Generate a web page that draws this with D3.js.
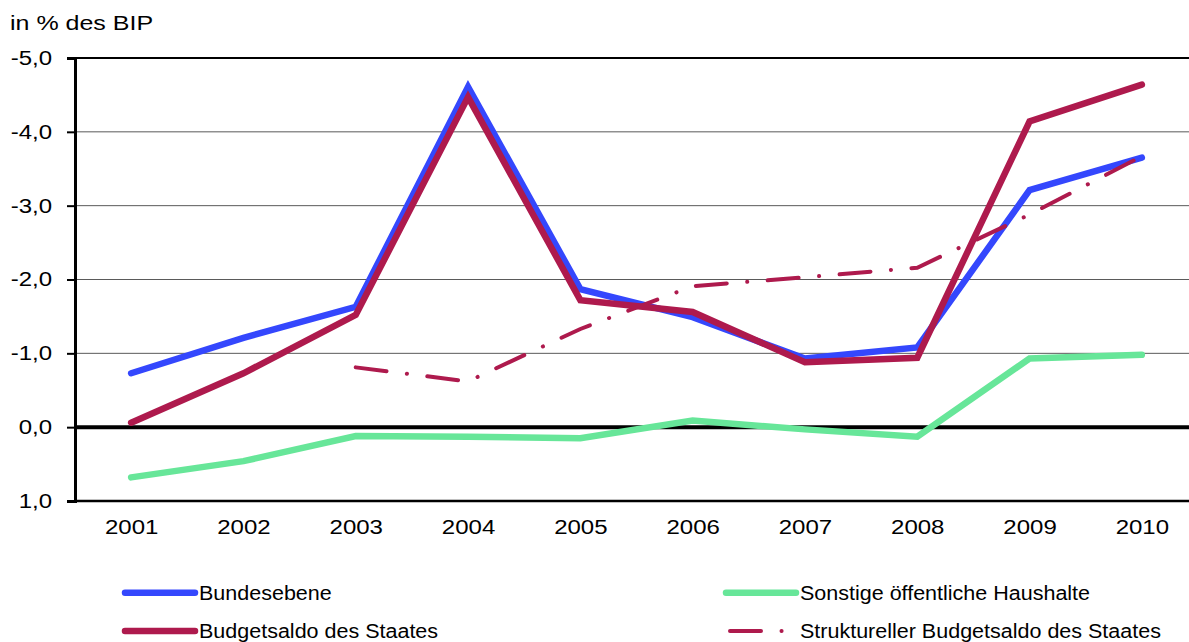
<!DOCTYPE html>
<html>
<head>
<meta charset="utf-8">
<script src="https://cdn.jsdelivr.net/npm/d3@7"></script>
<style>
  html, body { margin: 0; padding: 0; background: #fff; }
  svg { display: block; font-family: "Liberation Sans", Arial, sans-serif; }
</style>
</head>
<body>
<svg id="chart" width="1189" height="642"></svg>
<script>
// Haushaltssalden in % des BIP, 2001–2010 (negative Werte = Defizit, Achse umgekehrt)
const years = ["2001","2002","2003","2004","2005","2006","2007","2008","2009","2010"];
const bundesebene = [-0.73, -1.21, -1.63, -4.61, -1.87, -1.49, -0.93, -1.08, -3.21, -3.65];
const budgetsaldo = [-0.06, -0.73, -1.52, -4.47, -1.72, -1.56, -0.88, -0.94, -4.14, -4.64];
const sonstige = [0.68, 0.46, 0.12, 0.13, 0.15, -0.09, 0.03, 0.13, -0.93, -0.98];
const strukturell = [null, null, -0.81, -0.62, -1.33, -1.91, -2.03, -2.16, -2.88, -3.67];
const yTicks = [-5, -4, -3, -2, -1, 0, 1];
const legendLabels = ["Bundesebene", "Budgetsaldo des Staates", "Sonstige öffentliche Haushalte", "Struktureller Budgetsaldo des Staates"];

const colors = { blue: "#3447FD", crimson: "#AE1A4D", green: "#67E699" };

const svg = d3.select("#chart");
const de = d3.formatLocale({ decimal: ",", thousands: ".", grouping: [3], currency: ["", " €"], minus: "-" });
const fmt = de.format(".1f");

// widen glyphs horizontally (the chart font runs wider than Arial)
function widen(sel, k) {
  sel.each(function () {
    const w = this.getComputedTextLength();
    d3.select(this).attr("textLength", w * k).attr("lengthAdjust", "spacingAndGlyphs");
  });
}

const x = d3.scalePoint().domain(years).range([75, 1198]).padding(0.5);
const y = d3.scaleLinear().domain([-5, 1]).range([58, 501]);

// horizontal gridlines
svg.append("g")
  .selectAll("line")
  .data(yTicks.filter(v => v > -5 && v < 0))
  .join("line")
  .attr("x1", 75).attr("x2", 1198)
  .attr("y1", d => y(d)).attr("y2", d => y(d))
  .attr("stroke", "#5a5a5a").attr("stroke-width", 1);

// top frame line
svg.append("line")
  .attr("x1", 75).attr("x2", 1198)
  .attr("y1", y(-5)).attr("y2", y(-5))
  .attr("stroke", "#000").attr("stroke-width", 2);

// y axis with ticks and labels
const yAxis = d3.axisLeft(y).tickValues(yTicks).tickFormat(fmt).tickSize(8).tickPadding(15);
const gy = svg.append("g").attr("transform", "translate(75,0)").call(yAxis);
gy.select(".domain").attr("stroke", "#000").attr("stroke-width", 3);
gy.selectAll(".tick line").attr("stroke", "#000").attr("stroke-width", 2);
gy.selectAll(".tick text").attr("font-size", 20).attr("fill", "#000")
  .attr("font-family", "Liberation Sans, Arial, sans-serif")
  .call(widen, 1.2);

// bottom axis (category labels)
const xAxis = d3.axisBottom(x).tickSize(0).tickPadding(19);
const gx = svg.append("g").attr("transform", `translate(0,${y(1)})`).call(xAxis);
gx.select(".domain").remove();
gx.selectAll(".tick text").attr("font-size", 20).attr("fill", "#000")
  .attr("font-family", "Liberation Sans, Arial, sans-serif")
  .call(widen, 1.2);
svg.append("line")
  .attr("x1", 75).attr("x2", 1198)
  .attr("y1", y(1)).attr("y2", y(1))
  .attr("stroke", "#000").attr("stroke-width", 2.5);

// zero line
svg.append("line")
  .attr("x1", 75).attr("x2", 1198)
  .attr("y1", y(0)).attr("y2", y(0))
  .attr("stroke", "#000").attr("stroke-width", 4);

// unit label
svg.append("text")
  .attr("x", 10).attr("y", 30)
  .attr("font-size", 21).attr("fill", "#000")
  .text("in % des BIP")
  .call(widen, 1.19);

// series lines
const line = d3.line()
  .defined(d => d.v !== null)
  .x(d => x(d.year))
  .y(d => y(d.v));

const toPts = arr => years.map((yr, i) => ({ year: yr, v: arr[i] }));

const dashDot = "31,20.5,0.1,20.5";

const series = [
  { data: sonstige, color: colors.green, width: 6.5, dash: null },
  { data: bundesebene, color: colors.blue, width: 6.5, dash: null },
  { data: strukturell, color: colors.crimson, width: 4, dash: dashDot },
  { data: budgetsaldo, color: colors.crimson, width: 6.5, dash: null }
];

svg.append("g")
  .selectAll("path")
  .data(series)
  .join("path")
  .attr("d", s => line(toPts(s.data)))
  .attr("fill", "none")
  .attr("stroke", s => s.color)
  .attr("stroke-width", s => s.width)
  .attr("stroke-linecap", "round")
  .attr("stroke-linejoin", "miter")
  .attr("stroke-dasharray", s => s.dash);

// legend
const legendItems = [
  { label: legendLabels[0], color: colors.blue, width: 6.5, dash: null, x: 125, y: 592.7 },
  { label: legendLabels[1], color: colors.crimson, width: 6.5, dash: null, x: 125, y: 631 },
  { label: legendLabels[2], color: colors.green, width: 6.5, dash: null, x: 726, y: 592.7 },
  { label: legendLabels[3], color: colors.crimson, width: 4, dash: dashDot, x: 730, y: 631 }
];

const lg = svg.append("g").selectAll("g").data(legendItems).join("g");
lg.append("line")
  .attr("x1", d => d.x)
  .attr("x2", d => d.dash ? d.x + 52 : d.x + 70)
  .attr("y1", d => d.y).attr("y2", d => d.y)
  .attr("stroke", d => d.color)
  .attr("stroke-width", d => d.width)
  .attr("stroke-linecap", "round")
  .attr("stroke-dasharray", d => d.dash);
lg.append("text")
  .attr("x", d => d.dash ? 800 : d.x + 74)
  .attr("y", d => d.y + 7)
  .attr("font-size", 20)
  .attr("fill", "#000")
  .text(d => d.label)
  .call(widen, 1.075);
</script>
</body>
</html>
